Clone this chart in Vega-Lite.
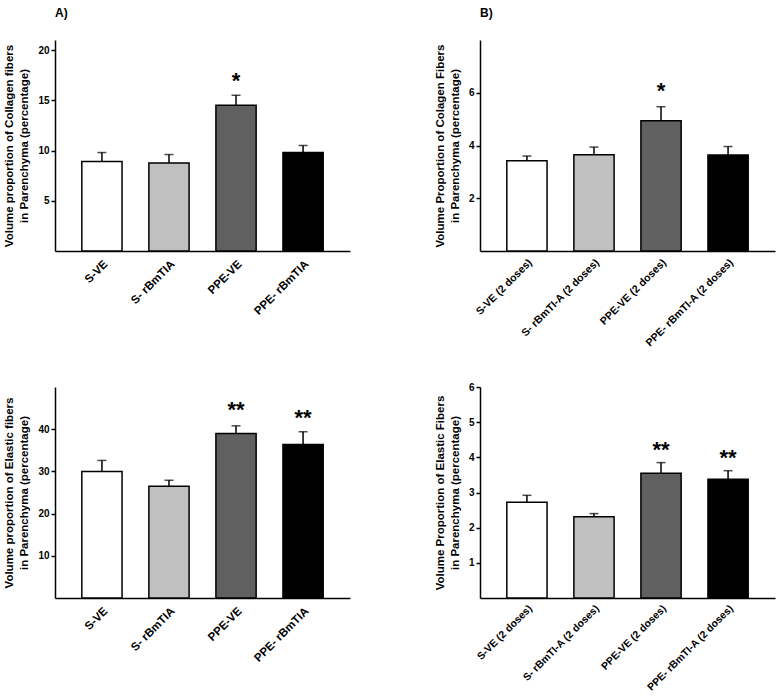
{
  "$schema": "https://vega.github.io/schema/vega-lite/v6.json",
  "background": "white",
  "padding": {"left": 3, "top": 7, "right": 2, "bottom": 0},
  "config": {
    "font": "Liberation Sans",
    "view": {"stroke": null},
    "axis": {"grid": false, "domainColor": "black", "domainWidth": 1.5, "tickColor": "black", "tickWidth": 1.5, "labelColor": "black", "labelFont": "Liberation Sans", "labelFontWeight": "bold", "titleFont": "Liberation Sans", "titleFontWeight": "bold", "titleColor": "black"},
    "axisY": {"tickSize": 4, "labelFontSize": 10, "titleFontSize": 11.5, "titleLineHeight": 15, "titlePadding": 8, "labelPadding": 2},
    "axisX": {"ticks": false, "labelAngle": -45, "labelFontSize": 11.5, "labelPadding": 7, "title": null},
    "title": {"font": "Liberation Sans", "fontWeight": "bold", "fontSize": 12, "anchor": "start", "frame": "group", "color": "black", "offset": 20},
    "bar": {"stroke": "black", "strokeWidth": 1.5},
    "tick": {"color": "black", "thickness": 1.5},
    "rule": {"color": "black", "strokeWidth": 1.5}
  },
  "datasets": {
    "collagen1": [
      {"group": "S-VE", "treatment": "Saline-Vehicle", "mean": 8.9, "upper": 9.8, "star": null, "starY": null},
      {"group": "S- rBmTIA", "treatment": "Saline-rBmTI", "mean": 8.75, "upper": 9.6, "star": null, "starY": null},
      {"group": "PPE-VE", "treatment": "PPE-Vehicle", "mean": 14.5, "upper": 15.5, "star": "*", "starY": 17.4},
      {"group": "PPE- rBmTIA", "treatment": "PPE-rBmTI", "mean": 9.8, "upper": 10.5, "star": null, "starY": null}
    ],
    "collagen2": [
      {"group": "S-VE (2 doses)", "treatment": "Saline-Vehicle", "mean": 3.42, "upper": 3.6, "star": null, "starY": null},
      {"group": "S- rBmTI-A (2 doses)", "treatment": "Saline-rBmTI", "mean": 3.65, "upper": 3.94, "star": null, "starY": null},
      {"group": "PPE-VE (2 doses)", "treatment": "PPE-Vehicle", "mean": 4.94, "upper": 5.47, "star": "*", "starY": 6.26},
      {"group": "PPE- rBmTI-A (2 doses)", "treatment": "PPE-rBmTI", "mean": 3.64, "upper": 3.96, "star": null, "starY": null}
    ],
    "elastic1": [
      {"group": "S-VE", "treatment": "Saline-Vehicle", "mean": 30.0, "upper": 32.6, "star": null, "starY": null},
      {"group": "S- rBmTIA", "treatment": "Saline-rBmTI", "mean": 26.5, "upper": 27.9, "star": null, "starY": null},
      {"group": "PPE-VE", "treatment": "PPE-Vehicle", "mean": 39.0, "upper": 40.8, "star": "**", "starY": 45.7},
      {"group": "PPE- rBmTIA", "treatment": "PPE-rBmTI", "mean": 36.4, "upper": 39.4, "star": "**", "starY": 43.8}
    ],
    "elastic2": [
      {"group": "S-VE (2 doses)", "treatment": "Saline-Vehicle", "mean": 2.72, "upper": 2.92, "star": null, "starY": null},
      {"group": "S- rBmTI-A (2 doses)", "treatment": "Saline-rBmTI", "mean": 2.31, "upper": 2.4, "star": null, "starY": null},
      {"group": "PPE-VE (2 doses)", "treatment": "PPE-Vehicle", "mean": 3.55, "upper": 3.85, "star": "**", "starY": 4.35},
      {"group": "PPE- rBmTI-A (2 doses)", "treatment": "PPE-rBmTI", "mean": 3.38, "upper": 3.62, "star": "**", "starY": 4.11}
    ]
  },
  "columns": 2,
  "bounds": "flush",
  "spacing": {"row": 136, "column": 130},
  "concat": [
    {
      "title": "A)",
      "width": 295, "height": 211,
      "data": {"name": "collagen1"},
      "encoding": {"x": {"field": "group", "type": "nominal", "sort": null, "scale": {"paddingInner": 0.4, "paddingOuter": 0.4}}},
      "layer": [
        {"mark": "bar", "encoding": {
          "y": {"field": "mean", "type": "quantitative", "scale": {"domain": [0, 21], "nice": false}, "axis": {"values": [5, 10, 15, 20], "titleLineHeight": 15, "title": ["Volume proportion of Collagen fibers", "in Parenchyma (percentage)"]}},
          "color": {"field": "treatment", "type": "nominal", "sort": null, "scale": {"domain": ["Saline-Vehicle", "Saline-rBmTI", "PPE-Vehicle", "PPE-rBmTI"], "range": ["#ffffff", "#c0c0c0", "#606060", "#000000"]}, "legend": null}}},
        {"mark": "rule", "encoding": {"y": {"field": "mean", "type": "quantitative"}, "y2": {"field": "upper"}}},
        {"mark": {"type": "tick", "size": 9}, "encoding": {"y": {"field": "upper", "type": "quantitative"}}},
        {"transform": [{"filter": "isValid(datum.star)"}], "mark": {"type": "text", "fontSize": 22, "fontWeight": "bold", "dy": 5, "color": "black"}, "encoding": {"y": {"field": "starY", "type": "quantitative"}, "text": {"field": "star"}}}
      ]
    },
    {
      "title": "B)",
      "width": 295, "height": 211,
      "data": {"name": "collagen2"},
      "encoding": {"x": {"field": "group", "type": "nominal", "sort": null, "scale": {"paddingInner": 0.4, "paddingOuter": 0.4}, "axis": {"labelFontSize": 10.6, "labelPadding": 6}}},
      "layer": [
        {"mark": "bar", "encoding": {
          "y": {"field": "mean", "type": "quantitative", "scale": {"domain": [0, 8], "nice": false}, "axis": {"values": [2, 4, 6], "titleLineHeight": 15, "title": ["Volume Proportion of Colagen Fibers", "in Parenchyma (percentage)"]}},
          "color": {"field": "treatment", "type": "nominal", "sort": null, "scale": {"domain": ["Saline-Vehicle", "Saline-rBmTI", "PPE-Vehicle", "PPE-rBmTI"], "range": ["#ffffff", "#c0c0c0", "#606060", "#000000"]}, "legend": null}}},
        {"mark": "rule", "encoding": {"y": {"field": "mean", "type": "quantitative"}, "y2": {"field": "upper"}}},
        {"mark": {"type": "tick", "size": 9}, "encoding": {"y": {"field": "upper", "type": "quantitative"}}},
        {"transform": [{"filter": "isValid(datum.star)"}], "mark": {"type": "text", "fontSize": 22, "fontWeight": "bold", "dy": 5, "color": "black"}, "encoding": {"y": {"field": "starY", "type": "quantitative"}, "text": {"field": "star"}}}
      ]
    },
    {
      "width": 295, "height": 211,
      "data": {"name": "elastic1"},
      "encoding": {"x": {"field": "group", "type": "nominal", "sort": null, "scale": {"paddingInner": 0.4, "paddingOuter": 0.4}}},
      "layer": [
        {"mark": "bar", "encoding": {
          "y": {"field": "mean", "type": "quantitative", "scale": {"domain": [0, 50], "nice": false}, "axis": {"values": [10, 20, 30, 40], "titleLineHeight": 15, "title": ["Volume proportion of Elastic fibers", "in Parenchyma (percentage)"]}},
          "color": {"field": "treatment", "type": "nominal", "sort": null, "scale": {"domain": ["Saline-Vehicle", "Saline-rBmTI", "PPE-Vehicle", "PPE-rBmTI"], "range": ["#ffffff", "#c0c0c0", "#606060", "#000000"]}, "legend": null}}},
        {"mark": "rule", "encoding": {"y": {"field": "mean", "type": "quantitative"}, "y2": {"field": "upper"}}},
        {"mark": {"type": "tick", "size": 9}, "encoding": {"y": {"field": "upper", "type": "quantitative"}}},
        {"transform": [{"filter": "isValid(datum.star)"}], "mark": {"type": "text", "fontSize": 22, "fontWeight": "bold", "dy": 5, "color": "black"}, "encoding": {"y": {"field": "starY", "type": "quantitative"}, "text": {"field": "star"}}}
      ]
    },
    {
      "width": 295, "height": 211,
      "data": {"name": "elastic2"},
      "encoding": {"x": {"field": "group", "type": "nominal", "sort": null, "scale": {"paddingInner": 0.4, "paddingOuter": 0.4}, "axis": {"labelFontSize": 10.4, "labelPadding": 5}}},
      "layer": [
        {"mark": "bar", "encoding": {
          "y": {"field": "mean", "type": "quantitative", "scale": {"domain": [0, 6], "nice": false}, "axis": {"values": [1, 2, 3, 4, 5, 6], "titleLineHeight": 15, "title": ["Volume Proportion of Elastic Fibers", "in Parenchyma (percentage)"]}},
          "color": {"field": "treatment", "type": "nominal", "sort": null, "scale": {"domain": ["Saline-Vehicle", "Saline-rBmTI", "PPE-Vehicle", "PPE-rBmTI"], "range": ["#ffffff", "#c0c0c0", "#606060", "#000000"]}, "legend": null}}},
        {"mark": "rule", "encoding": {"y": {"field": "mean", "type": "quantitative"}, "y2": {"field": "upper"}}},
        {"mark": {"type": "tick", "size": 9}, "encoding": {"y": {"field": "upper", "type": "quantitative"}}},
        {"transform": [{"filter": "isValid(datum.star)"}], "mark": {"type": "text", "fontSize": 22, "fontWeight": "bold", "dy": 5, "color": "black"}, "encoding": {"y": {"field": "starY", "type": "quantitative"}, "text": {"field": "star"}}}
      ]
    }
  ]
}
